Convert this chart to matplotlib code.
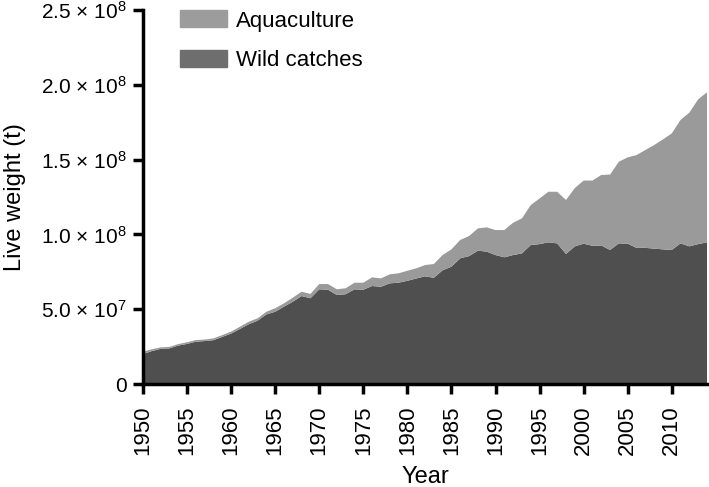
import matplotlib
matplotlib.use("Agg")
import matplotlib.pyplot as plt
from matplotlib.patches import Patch
from matplotlib.ticker import FuncFormatter

plt.rcParams["font.family"] = ["Liberation Sans", "DejaVu Sans"]
plt.rcParams["mathtext.fontset"] = "custom"
plt.rcParams["mathtext.rm"] = "Liberation Sans"
plt.rcParams["mathtext.it"] = "Liberation Sans"

# yillar 1950-2014
years = list(range(1950, 2015))

# vahsi avcilik (x 1e7 ton)
wild = [2.00, 2.20, 2.35, 2.38, 2.57, 2.68, 2.83, 2.87, 2.93, 3.15,
        3.37, 3.68, 4.00, 4.23, 4.65, 4.83, 5.17, 5.50, 5.88, 5.73,
        6.33, 6.30, 5.95, 6.00, 6.33, 6.30, 6.55, 6.50, 6.73, 6.77,
        6.90, 7.05, 7.20, 7.10, 7.60, 7.84, 8.40, 8.55, 8.91, 8.85,
        8.62, 8.47, 8.62, 8.73, 9.29, 9.35, 9.47, 9.40, 8.69, 9.20,
        9.38, 9.24, 9.26, 8.96, 9.40, 9.38, 9.10, 9.10, 9.05, 9.00,
        8.96, 9.40, 9.20, 9.35, 9.47]

# su urunleri yetistiriciligi (x 1e7 ton)
aqua = [0.16, 0.12, 0.10, 0.10, 0.10, 0.11, 0.11, 0.10, 0.12, 0.12,
        0.13, 0.15, 0.16, 0.16, 0.18, 0.23, 0.22, 0.27, 0.29, 0.29,
        0.35, 0.38, 0.38, 0.40, 0.44, 0.47, 0.58, 0.56, 0.60, 0.63,
        0.67, 0.68, 0.75, 0.92, 1.02, 1.16, 1.23, 1.34, 1.49, 1.62,
        1.67, 1.82, 2.16, 2.34, 2.67, 3.05, 3.38, 3.45, 3.61, 3.90,
        4.22, 4.36, 4.71, 5.04, 5.46, 5.77, 6.20, 6.54, 6.92, 7.35,
        7.79, 8.25, 8.94, 9.68, 10.03]

wild_t = [w * 1e7 for w in wild]
aqua_t = [a * 1e7 for a in aqua]

fig = plt.figure(figsize=(7.09, 4.87), dpi=100)
ax = fig.add_axes([143 / 709, (487 - 384) / 487, (707 - 143) / 709, (384 - 10) / 487])

ax.stackplot(years, wild_t, aqua_t, colors=["#4f4f4f", "#9a9a9a"], linewidth=0)

ax.set_xlim(1950, 2014)
ax.set_ylim(0, 2.5e8)
ax.set_xticks(range(1950, 2015, 5))
ax.set_yticks([0, 5e7, 1e8, 1.5e8, 2e8, 2.5e8])


def sci_fmt(v, pos):
    if v == 0:
        return "0"
    exp = 7 if v < 1e8 else 8
    return "%.1f \u00d7 10$^{%d}$" % (v / 10 ** exp, exp)


ax.yaxis.set_major_formatter(FuncFormatter(sci_fmt))
ax.tick_params(axis="x", labelrotation=90, labelsize=16, length=7.5, width=2.5, pad=8)
ax.tick_params(axis="y", labelsize=15, length=7.5, width=2.5, pad=4)

for s in ["top", "right"]:
    ax.spines[s].set_visible(False)
for s in ["left", "bottom"]:
    ax.spines[s].set_linewidth(2.5)

ax.set_xlabel("Year", fontsize=17, labelpad=8)
ax.set_ylabel("Live weight (t)", fontsize=17, labelpad=11)

handles = [Patch(color="#9c9c9c", label="Aquaculture"),
           Patch(color="#6e6e6e", label="Wild catches")]
ax.legend(handles=handles, loc="upper left", bbox_to_anchor=(0.066, 0.999),
          frameon=False, fontsize=16, handlelength=2.1, handleheight=0.8,
          labelspacing=0.84, handletextpad=0.4, borderpad=0, borderaxespad=0)

fig.savefig("out.png", dpi=100)
